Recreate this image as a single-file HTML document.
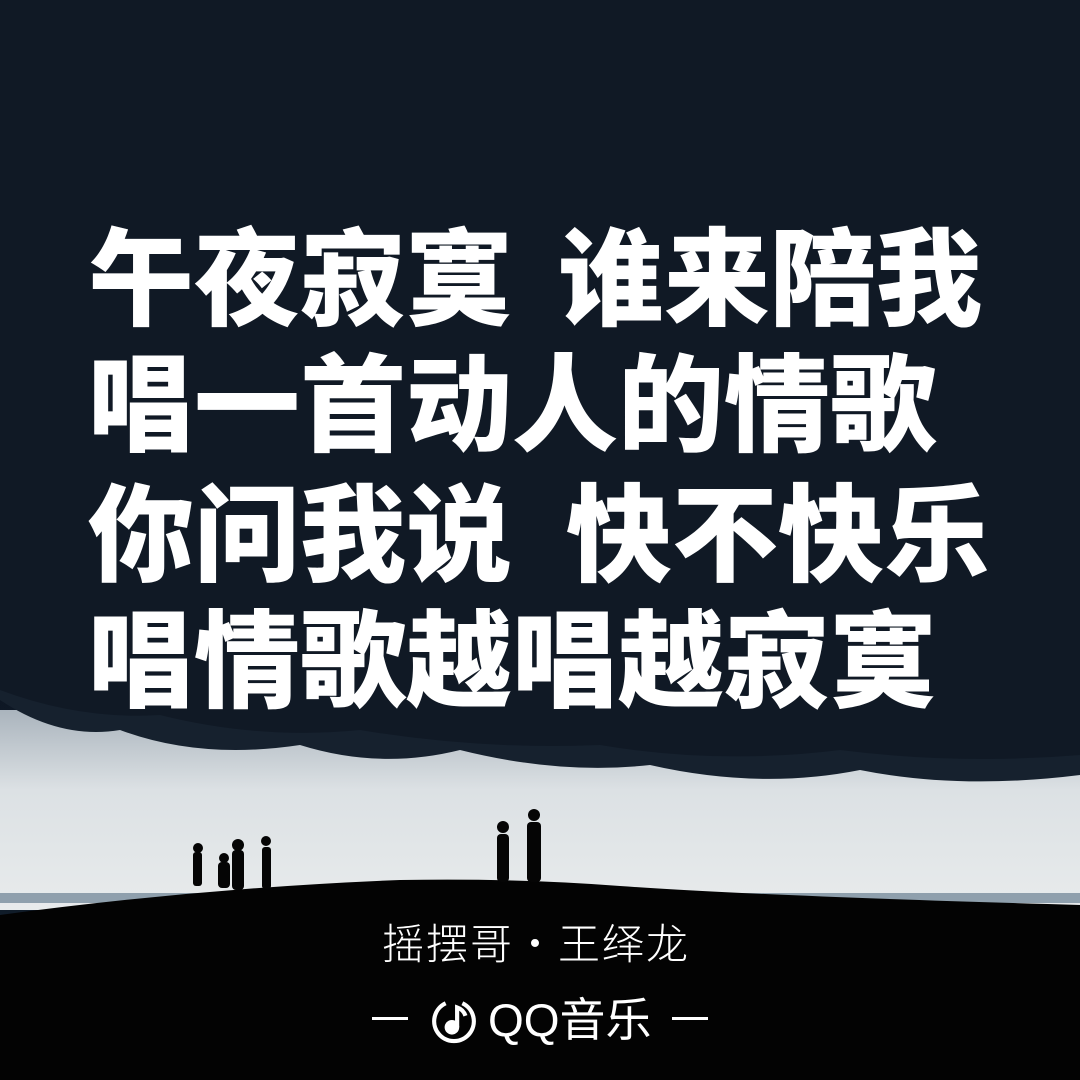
<!DOCTYPE html>
<html><head><meta charset="utf-8"><style>
html,body{margin:0;padding:0}
body{width:1080px;height:1080px;position:relative;overflow:hidden;background:#080c14;font-family:"Liberation Sans","Noto Sans CJK SC",sans-serif}
.bg{position:absolute;left:0;top:0}
.l{position:absolute;color:#fff;font-weight:900;font-size:106px;line-height:106px;white-space:nowrap;font-family:"Noto Sans CJK SC",sans-serif;letter-spacing:0px}
.s{position:absolute;color:#fff;white-space:nowrap;font-family:"Liberation Sans","Noto Sans CJK SC",sans-serif;font-weight:300}
</style></head><body>
<svg class="bg" width="1080" height="1080" viewBox="0 0 1080 1080">
<defs>
<linearGradient id="sky" x1="0" y1="0" x2="0" y2="1">
<stop offset="0" stop-color="#070b13"/><stop offset="0.5" stop-color="#0b1421"/><stop offset="1" stop-color="#131f2d"/>
</linearGradient>
<linearGradient id="light" x1="0" y1="0" x2="0" y2="1">
<stop offset="0" stop-color="#aab4bd"/><stop offset="0.4" stop-color="#dce1e4"/><stop offset="1" stop-color="#e8ebec"/>
</linearGradient>
</defs>
<rect width="1080" height="1080" fill="url(#sky)"/>
<rect y="710" width="1080" height="200" fill="url(#light)"/>
<path d="M0 700 Q60 740 120 730 Q200 760 300 745 Q380 770 460 750 Q560 775 650 765 Q760 790 860 770 Q960 790 1080 775 L1080 0 L0 0Z" fill="#16212e"/>
<path d="M0 690 Q80 720 160 715 Q260 740 360 730 Q480 750 600 745 Q720 765 840 750 Q960 765 1080 755 L1080 0 L0 0Z" fill="#0f1825" opacity="0.9"/>
<rect y="893" width="1080" height="10" fill="#8fa0ad"/>
<path d="M0 915 Q200 888 400 880 Q520 878 620 886 Q760 896 1080 905 L1080 1080 L0 1080Z" fill="#030303"/>
<g fill="#050505">
<rect x="193" y="852" width="9" height="34" rx="3"/><circle cx="198" cy="848" r="5"/>
<rect x="218" y="862" width="12" height="26" rx="4"/><circle cx="224" cy="858" r="5"/>
<rect x="232" y="850" width="12" height="40" rx="4"/><circle cx="238" cy="845" r="6"/>
<rect x="262" y="847" width="9" height="42" rx="3"/><circle cx="266" cy="841" r="5"/>
<rect x="497" y="834" width="12" height="48" rx="4"/><circle cx="503" cy="827" r="6"/>
<rect x="527" y="822" width="14" height="60" rx="4"/><circle cx="534" cy="815" r="6"/>
</g>
</svg>
<div class="l" style="left:88px;top:218px">午夜寂寞</div>
<div class="l" style="left:558px;top:218px">谁来陪我</div>
<div class="l" style="left:88px;top:344px">唱一首动人的情歌</div>
<div class="l" style="left:88px;top:474px">你问我说</div>
<div class="l" style="left:566px;top:474px">快不快乐</div>
<div class="l" style="left:88px;top:600px">唱情歌越唱越寂寞</div>
<div class="s" style="left:382px;top:920px;font-size:42px;line-height:50px;letter-spacing:2px">摇摆哥・王绎龙</div>
<div style="position:absolute;left:372px;top:993px;width:340px;height:54px">
<div style="position:absolute;left:0;top:24px;width:36px;height:3px;background:#fff"></div>
<svg style="position:absolute;left:58px;top:4px" width="48" height="48" viewBox="0 0 46 46"><path d="M15 6 A19 19 0 1 0 31 6" fill="none" stroke="#fff" stroke-width="4"/><circle cx="21" cy="29" r="7" fill="#fff"/><path d="M26 29 L26 10 Q32 12 34 18" fill="none" stroke="#fff" stroke-width="4"/></svg>
<div class="s" style="left:116px;top:0;font-size:46px;line-height:54px;font-weight:400">QQ音乐</div>
<div style="position:absolute;left:300px;top:24px;width:36px;height:3px;background:#fff"></div>
</div>
</body></html>
